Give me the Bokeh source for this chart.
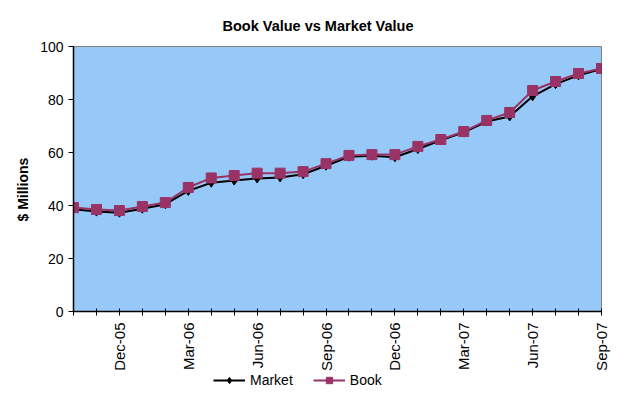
import math
from bokeh.plotting import figure
from bokeh.layouts import column
from bokeh.models import FixedTicker, Legend, LegendItem, Range1d, Title
from bokeh.embed import file_html
from bokeh.resources import INLINE

months = ["Oct-05", "Nov-05", "Dec-05", "Jan-06", "Feb-06", "Mar-06", "Apr-06", "May-06",
          "Jun-06", "Jul-06", "Aug-06", "Sep-06", "Oct-06", "Nov-06", "Dec-06", "Jan-07",
          "Feb-07", "Mar-07", "Apr-07", "May-07", "Jun-07", "Jul-07", "Aug-07", "Sep-07"]
market = [38.6, 37.7, 37.3, 38.8, 40.5, 45.5, 48.6, 49.4, 50.2, 50.6, 51.8, 55.0,
          58.4, 58.8, 58.2, 61.3, 64.6, 67.6, 71.7, 73.6, 81.2, 85.8, 89.1, 91.5]
book = [39.2, 38.5, 38.1, 39.6, 41.1, 46.8, 50.4, 51.3, 52.2, 52.2, 52.8, 55.8,
        58.9, 59.2, 59.2, 62.3, 64.9, 67.9, 72.1, 75.1, 83.4, 86.8, 89.8, 91.7]
shown_labels = ["Dec-05", "Mar-06", "Jun-06", "Sep-06", "Dec-06", "Mar-07", "Jun-07", "Sep-07"]
y_ticks = [0, 20, 40, 60, 80, 100]
series_names = ["Market", "Book"]
series_values = [market, book]
series_colors = ["black", "#993366"]
series_markers = ["diamond", "square"]
series_sizes = [9, 10]

x = list(range(len(months)))
FONT = "Liberation Sans"
FS = "14px"

p = figure(frame_width=528, frame_height=265, output_backend="svg", toolbar_location=None,
           x_range=Range1d(0, len(months) - 1), y_range=Range1d(0, 100),
           min_border_left=73, min_border_right=35, min_border_top=46, min_border_bottom=62)

p.title.text = "Book Value vs Market Value"
p.title.text_font = FONT
p.title.text_font_size = "14.5px"
p.title.text_font_style = "bold"
p.title.text_color = "black"
p.title.align = "left"
p.title.offset = 149
p.title.standoff = 25

p.background_fill_color = "#96c8f8"
p.border_fill_color = "white"
p.outline_line_color = "#808080"
p.outline_line_width = 1
p.grid.visible = False

# axes
p.xaxis.ticker = FixedTicker(ticks=x)
p.xaxis.major_label_overrides = {i: (m if m in shown_labels else "") for i, m in enumerate(months)}
p.xaxis.major_label_orientation = math.pi / 2
p.xaxis.major_tick_in = 3
p.xaxis.major_tick_out = 4
p.xaxis.minor_tick_line_color = None
p.xaxis.major_label_standoff = 7

p.yaxis.ticker = FixedTicker(ticks=y_ticks)
p.yaxis.major_tick_in = 0
p.yaxis.major_tick_out = 5
p.yaxis.minor_tick_line_color = None
p.yaxis.major_label_standoff = 5

for ax in (p.xaxis, p.yaxis):
    ax.axis_line_color = "black"
    ax.axis_line_width = 1.5
    ax.major_tick_line_color = "black"
    ax.major_label_text_font = FONT
    ax.major_label_text_color = "black"
p.yaxis.major_label_text_font_size = FS
p.xaxis.major_label_text_font_size = "15px"

ylab = Title(text="$ Millions", text_font=FONT, text_font_size=FS, text_font_style="bold",
             text_color="black", align="left", offset=90, standoff=13)
p.add_layout(ylab, "left")

for vals, col, mk, sz in zip(series_values, series_colors, series_markers, series_sizes):
    p.line(x, vals, line_color=col, line_width=2)
    p.scatter(x, vals, marker=mk, size=sz, fill_color=col, line_color=col)

# legend strip underneath (separate canvas so it is not clipped by the plot frame);
# its series renderers fall outside this strip's ranges, only the legend shows.
lg = figure(frame_width=636, frame_height=28, output_backend="svg", toolbar_location=None,
            min_border=0, x_range=Range1d(-2, -1), y_range=Range1d(-2, -1))
lg.axis.visible = False
lg.grid.visible = False
lg.outline_line_color = None
lg.background_fill_color = "white"
lg.border_fill_color = "white"
items = []
for name, vals, col, mk, sz in zip(series_names, series_values, series_colors, series_markers, series_sizes):
    r1 = lg.line(x, vals, line_color=col, line_width=2)
    r2 = lg.scatter(x, vals, marker=mk, size=sz, fill_color=col, line_color=col)
    items.append(LegendItem(label=name, renderers=[r1, r2]))
legend = Legend(items=items, orientation="horizontal", location=(213, 13),
                border_line_alpha=0, background_fill_alpha=0,
                label_text_font=FONT, label_text_font_size=FS, label_text_color="black",
                glyph_width=32, glyph_height=16, label_height=16,
                spacing=20, padding=0, margin=0, label_standoff=5)
lg.add_layout(legend)

layout = column(p, lg, spacing=0)
open("out.html", "w").write(file_html(layout, INLINE))
